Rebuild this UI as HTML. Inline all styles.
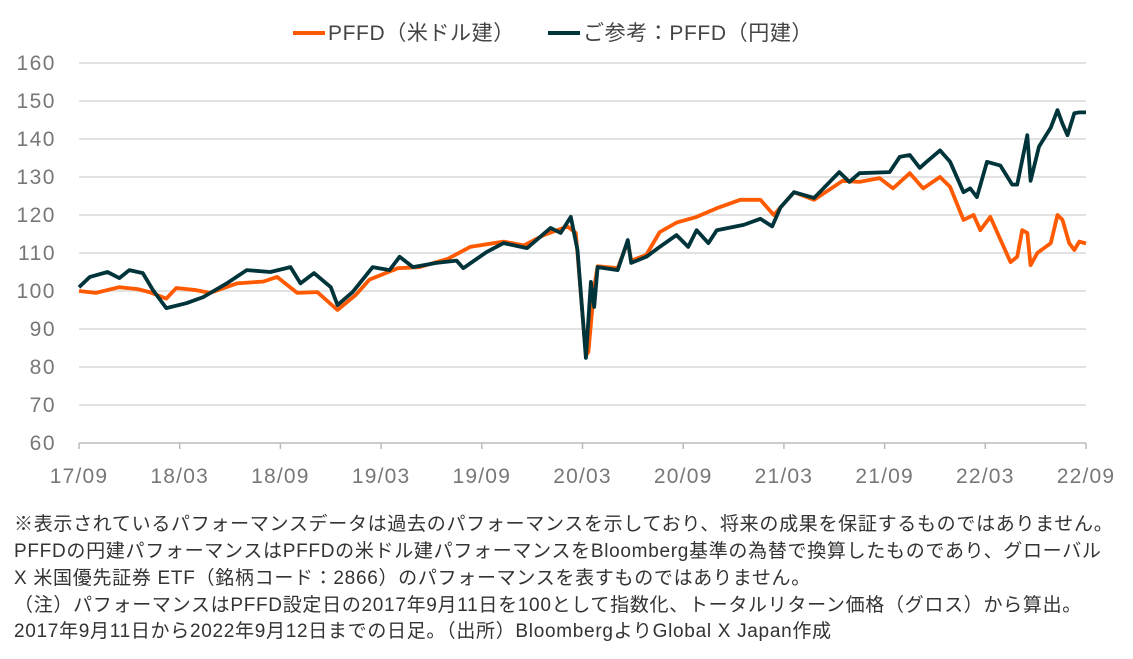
<!DOCTYPE html>
<html><head><meta charset="utf-8"><style>
body{margin:0;background:#fff;width:1133px;height:659px;overflow:hidden;font-family:"Liberation Sans","Noto Sans CJK JP",sans-serif}
.note{position:absolute;left:14px;font-size:19px;letter-spacing:0.7px;color:#333;white-space:nowrap;line-height:22px}
</style></head><body>
<svg width="1133" height="659" style="position:absolute;left:0;top:0">
<g id="grid"></g><g id="ylab"></g><g id="xlab"></g><g id="series"></g>
<g>
<line x1="293" y1="33" x2="325" y2="33" stroke="#FF5A00" stroke-width="4"/>
<text x="328" y="40" font-size="21" letter-spacing="0.6" fill="#444">PFFD（米ドル建）</text>
<line x1="548" y1="33" x2="580" y2="33" stroke="#00343B" stroke-width="4"/>
<text x="583" y="40" font-size="21" letter-spacing="0.6" fill="#444">ご参考：PFFD（円建）</text>
</g>
</svg>
<div class="note" style="top:514px">※表示されているパフォーマンスデータは過去のパフォーマンスを示しており、将来の成果を保証するものではありません。</div>
<div class="note" style="top:541px">PFFDの円建パフォーマンスはPFFDの米ドル建パフォーマンスをBloomberg基準の為替で換算したものであり、グローバル</div>
<div class="note" style="top:568px">X 米国優先証券 ETF（銘柄コード：2866）のパフォーマンスを表すものではありません。</div>
<div class="note" style="top:595px">（注）パフォーマンスはPFFD設定日の2017年9月11日を100として指数化、トータルリターン価格（グロス）から算出。</div>
<div class="note" style="top:621px">2017年9月11日から2022年9月12日までの日足。（出所）BloombergよりGlobal X Japan作成</div>
<script>
const yTicks=[60,70,80,90,100,110,120,130,140,150,160];
const xTickLabels=["17/09","18/03","18/09","19/03","19/09","20/03","20/09","21/03","21/09","22/03","22/09"];
const usdMonths=[0,1,2.4,3.5,4.2,5.2,5.8,7,7.8,9.4,11,11.8,13,14.2,15.4,16.5,17.3,19,20.3,22,23.3,25.3,26.5,27.7,29.1,29.6,30.2,30.35,30.7,30.9,32.1,32.7,32.9,33.8,34.6,35.6,36.8,38,39.4,40.6,41.4,42.6,43.8,45.5,46.5,47.7,48.5,49.5,50.3,51.3,51.9,52.7,53.3,53.7,54.3,55.5,55.9,56.2,56.5,56.7,57.1,57.9,58.3,58.6,59,59.3,59.6,60];
const usdValues=[100,99.5,101,100.5,99.7,98,100.8,100.2,99.5,102,102.5,103.7,99.5,99.7,95,99,103,106,106.3,108.5,111.6,113,112,114.7,117,115.3,83,84,101,106.5,106,113,108,109.5,115.5,118,119.5,121.8,124,124,120,126,124,129,128.7,129.7,127,131,127,130,127.4,118.7,120,116,119.5,107.6,109,116,115.3,106.8,110,112.6,120,118.7,112.6,110.8,113,112.5];
const jpyMonths=[0,0.65,1.7,2.4,3,3.8,4.4,5.2,6.4,7.4,8.8,10,11.4,12.6,13.2,14,15,15.4,16.3,17.5,18.5,19.1,19.9,21.3,22.5,22.9,24.3,25.3,26.7,28.1,28.7,29.3,29.7,30.2,30.5,30.7,30.9,32.1,32.7,32.9,33.8,34.6,35.6,36.3,36.8,37.5,38,39.6,40.6,41.3,41.8,42.6,43.8,45.3,45.9,46.5,48.3,48.9,49.5,50.1,50.5,51.3,51.9,52.7,53.1,53.5,54.1,54.9,55.6,55.9,56.5,56.7,57.2,57.9,58.3,58.6,58.9,59.3,59.6,60];
const jpyValues=[101,103.7,105,103.4,105.5,104.7,100.3,95.5,96.8,98.4,102,105.5,105,106.3,102,104.7,101,96.3,99.7,106.3,105.5,109,106.3,107.4,108,106,110.3,112.6,111.3,116.6,115.3,119.5,110.8,82.4,102.4,95.8,106.3,105.5,113.4,107.4,109,111.6,114.7,111.6,116,112.6,116,117.4,119,117,122,126,124.5,131.3,128.7,131,131.3,135.3,135.8,132.4,134,137,134,126,127,124.7,134,133,128,128,141,129,138,143,147.6,144,141,146.8,147,147];
const NS='http://www.w3.org/2000/svg';
const X0=79,X1=1086,Y0=443,Y1=63;
function xs(m){return X0+(X1-X0)*m/60;}
function ys(v){return Y0-(Y0-Y1)*(v-60)/100;}
function mk(tag,attrs,parent){const e=document.createElementNS(NS,tag);for(const k in attrs)e.setAttribute(k,attrs[k]);parent.appendChild(e);return e;}
const grid=document.getElementById('grid'),yl=document.getElementById('ylab'),xl=document.getElementById('xlab'),sg=document.getElementById('series');
yTicks.forEach(v=>{
  const l=mk('line',{x1:X0,x2:X1,y1:ys(v),y2:ys(v),stroke:v===60?'#bbb':'#e2e2e2','stroke-width':v===60?1.5:2},grid);
  
  
  const t=mk('text',{x:56,y:ys(v)+7,'text-anchor':'end','font-size':21,'letter-spacing':1.5,fill:'#777'},yl);
  t.textContent=v;
  
  
});
xTickLabels.forEach((s,i)=>{
  const x=xs(i*6);
  const tk=mk('line',{x1:x,x2:x,y1:Y0,y2:Y0+6,stroke:'#bbb','stroke-width':1.5},xl);
  
  
  const t=mk('text',{x:x,y:483,'text-anchor':'middle','font-size':21,'letter-spacing':1.2,fill:'#777'},xl);
  t.textContent=s;
  
  
});
function path(ms,vs,color,name){
  const d=ms.map((m,i)=>(i?'L':'M')+xs(m).toFixed(1)+','+ys(vs[i]).toFixed(1)).join('');
  const p=mk('path',{d:d,fill:'none',stroke:color,'stroke-width':3.8,'stroke-linejoin':'round'},sg);
  
  
}
path(usdMonths,usdValues,'#FF5A00','line-usd');
path(jpyMonths,jpyValues,'#00343B','line-jpy');
</script>
</body></html>
